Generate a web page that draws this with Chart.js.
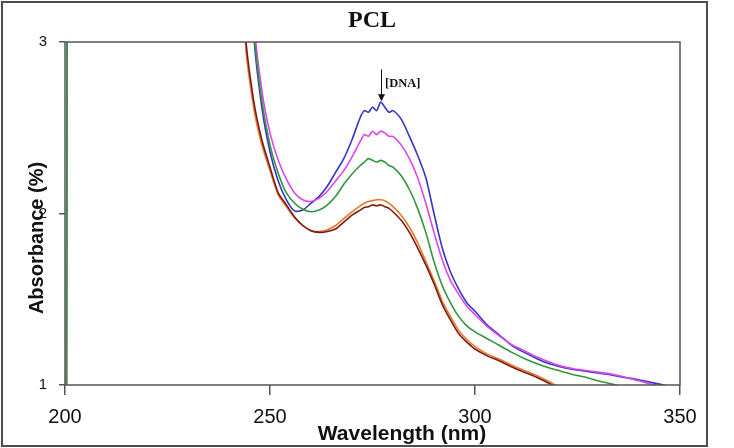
<!DOCTYPE html>
<html>
<head>
<meta charset="utf-8">
<script src="https://cdn.jsdelivr.net/npm/chart.js@4.4.0/dist/chart.umd.min.js"></script>
<style>
  html, body { margin: 0; padding: 0; background: #fff; }
  canvas { display: block; }
</style>
</head>
<body>
<canvas id="chart" width="734" height="448"></canvas>
<script>
// wavelength grid (nm), shared by all spectra
const wavelengths = [
  200.3, 200.7, 201.1, 240,
  244, 246, 248, 250, 252, 254, 256, 258, 260, 262, 264, 266, 268, 270, 272,
  273, 274, 275, 276, 277, 278, 279, 280,
  282, 284, 286, 288, 290, 292, 294, 296, 298, 300,
  303, 306, 309, 312, 315, 318, 321, 324, 327, 330, 333, 336, 339, 342, 345, 348
];

// absorbance, one array per DNA concentration
const blue = [
  0, 5, 5, 5,
  4, 3.05, 2.62, 2.36, 2.19, 2.08, 2.015, 2.02, 2.06, 2.10, 2.16, 2.24, 2.32, 2.43, 2.56,
  2.60, 2.59, 2.62, 2.60, 2.65, 2.62, 2.59, 2.60,
  2.55, 2.45, 2.34, 2.21, 2.00, 1.80, 1.66, 1.56, 1.48, 1.43,
  1.35, 1.29, 1.23, 1.19, 1.155, 1.125, 1.105, 1.09, 1.08, 1.07, 1.06, 1.045, 1.035, 1.02, 1.005, 0.99
];
const magenta = [
  0, 5, 5, 5,
  4.5, 3.15, 2.72, 2.47, 2.31, 2.20, 2.12, 2.08, 2.07, 2.09, 2.13, 2.19, 2.25, 2.33, 2.42,
  2.46, 2.45, 2.48, 2.46, 2.48, 2.47, 2.45, 2.45,
  2.40, 2.32, 2.21, 2.06, 1.89, 1.73, 1.61, 1.53, 1.46, 1.41,
  1.34, 1.285, 1.235, 1.20, 1.165, 1.135, 1.11, 1.095, 1.085, 1.075, 1.065, 1.05, 1.03, 1.01, 0.995, null
];
const green = [
  0, 5, 5, 5,
  4.2, 3.08, 2.66, 2.40, 2.235, 2.12, 2.06, 2.025, 2.01, 2.02, 2.05, 2.10, 2.17, 2.23, 2.28,
  2.30, 2.32, 2.31, 2.30, 2.31, 2.30, 2.28, 2.27,
  2.22, 2.14, 2.03, 1.89, 1.72, 1.58, 1.48, 1.40, 1.345, 1.31,
  1.27, 1.23, 1.19, 1.155, 1.125, 1.10, 1.08, 1.06, 1.045, 1.025, 1.008, 0.99, null, null, null, null
];
const orange = [
  0, 0, 5, 5,
  3.0, 2.62, 2.40, 2.25, 2.11, 2.04, 1.975, 1.93, 1.90, 1.895, 1.905, 1.93, 1.97, 2.01, 2.045,
  2.06, 2.07, 2.075, 2.08, 2.08, 2.075, 2.06, 2.04,
  1.99, 1.92, 1.83, 1.72, 1.61, 1.49, 1.40, 1.32, 1.265, 1.225,
  1.18, 1.15, 1.115, 1.085, 1.055, 1.02, 0.98, null, null, null, null, null, null, null, null, null
];
const brown = [
  0, 0, 5, 5,
  3.05, 2.66, 2.43, 2.27, 2.12, 2.05, 1.98, 1.93, 1.90, 1.89, 1.895, 1.91, 1.95, 1.99, 2.02,
  2.035, 2.04, 2.05, 2.045, 2.05, 2.04, 2.03, 2.01,
  1.96, 1.89, 1.80, 1.70, 1.59, 1.47, 1.38, 1.30, 1.25, 1.21,
  1.17, 1.14, 1.105, 1.075, 1.045, 1.01, 0.97, null, null, null, null, null, null, null, null, null
];

const xTicks = [200, 250, 300, 350];
const yTicks = [1, 2, 3];

// arrow marking increasing [DNA]
const arrowX = 277.2;
const arrowTop = 2.84;
const arrowTip = 2.655;

const series = [
  { label: "brown", data: brown, color: "#7a1c10" },
  { label: "orange", data: orange, color: "#e8782e" },
  { label: "green", data: green, color: "#33963a" },
  { label: "magenta", data: magenta, color: "#e046e6" },
  { label: "blue", data: blue, color: "#3535c8" },
];

const decorations = {
  id: "decorations",
  afterDraw(chart) {
    const { ctx, chartArea: a, scales } = chart;
    ctx.save();

    // outer frame
    ctx.strokeStyle = "#4d4d4d";
    ctx.lineWidth = 2;
    ctx.strokeRect(2, 2, 705, 444);

    // plot box
    ctx.strokeStyle = "#555";
    ctx.lineWidth = 1.5;
    ctx.strokeRect(a.left, a.top, a.right - a.left, a.bottom - a.top);

    ctx.fillStyle = "#111";
    ctx.textAlign = "center";
    ctx.textBaseline = "alphabetic";

    ctx.font = "bold 24px 'Liberation Serif'";
    ctx.fillText("PCL", 372, 27);

    ctx.font = "bold 21px 'Liberation Sans'";
    ctx.fillText("Wavelength (nm)", 402, 440);

    ctx.save();
    ctx.translate(43, 238);
    ctx.rotate(-Math.PI / 2);
    ctx.font = "bold 20px 'Liberation Sans'";
    ctx.fillText("Absorbance (%)", 0, 0);
    ctx.restore();

    // [DNA] arrow
    const ax = scales.x.getPixelForValue(arrowX);
    const yTop = scales.y.getPixelForValue(arrowTop);
    const yTip = scales.y.getPixelForValue(arrowTip);
    ctx.strokeStyle = "#111";
    ctx.lineWidth = 1;
    ctx.beginPath();
    ctx.moveTo(ax, yTop);
    ctx.lineTo(ax, yTip - 5);
    ctx.stroke();
    ctx.beginPath();
    ctx.moveTo(ax, yTip);
    ctx.lineTo(ax - 3.5, yTip - 7);
    ctx.lineTo(ax + 3.5, yTip - 7);
    ctx.closePath();
    ctx.fill();

    ctx.textAlign = "left";
    ctx.font = "bold 12.5px 'Liberation Serif'";
    ctx.fillText("[DNA]", ax + 3.5, yTop + 18);

    ctx.restore();
  },
};

new Chart(document.getElementById("chart"), {
  type: "line",
  data: {
    datasets: series.map((s) => ({
      label: s.label,
      data: wavelengths.map((w, i) => ({ x: w, y: s.data[i] })),
      borderColor: s.color,
      backgroundColor: s.color,
      borderWidth: 1.6,
      pointRadius: 0,
      tension: 0.25,
      spanGaps: false,
    })),
  },
  options: {
    responsive: false,
    animation: false,
    layout: { padding: { left: 0, top: 42, right: 54, bottom: 0 } },
    plugins: {
      legend: { display: false },
      tooltip: { enabled: false },
    },
    scales: {
      x: {
        type: "linear",
        min: 200,
        max: 350,
        afterFit: (scale) => { scale.height = 63; },
        afterBuildTicks: (scale) => { scale.ticks = xTicks.map((v) => ({ value: v })); },
        grid: { drawOnChartArea: false, tickLength: 10, color: "#555", lineWidth: 1.5 },
        border: { display: false },
        ticks: {
          color: "#111",
          padding: 10,
          maxRotation: 0,
          font: { family: "'Liberation Sans'", size: 20 },
        },
      },
      y: {
        min: 1,
        max: 3,
        afterFit: (scale) => { scale.width = 65; },
        afterBuildTicks: (scale) => { scale.ticks = yTicks.map((v) => ({ value: v })); },
        grid: { drawOnChartArea: false, tickLength: 6, color: "#555", lineWidth: 1.5 },
        border: { display: false },
        ticks: {
          color: "#111",
          padding: 12,
          font: { family: "'Liberation Sans'", size: 15 },
        },
      },
    },
  },
  plugins: [decorations],
});
</script>
</body>
</html>
